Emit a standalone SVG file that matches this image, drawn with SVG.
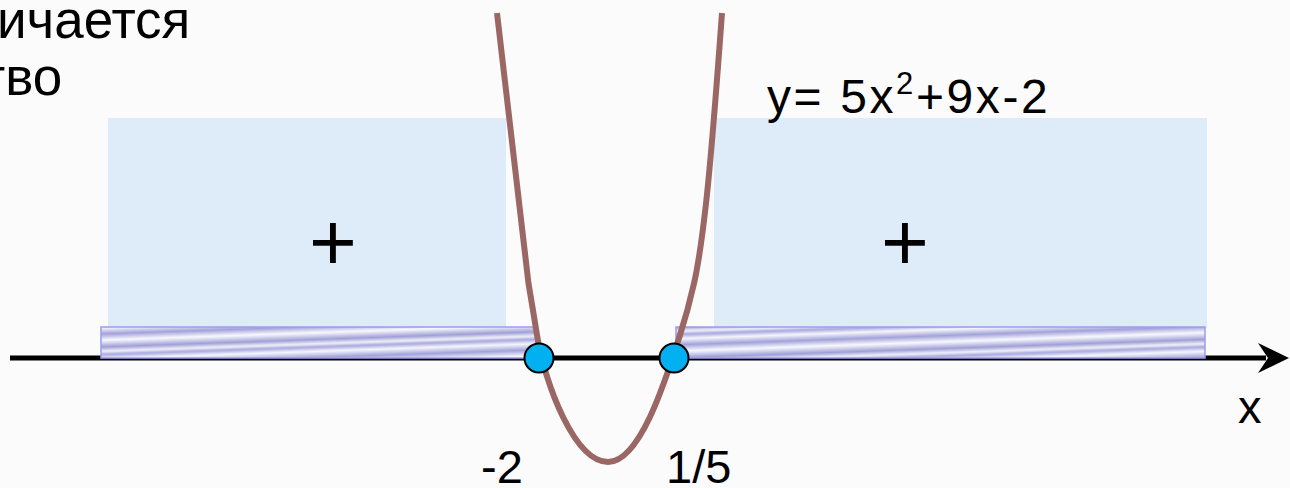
<svg xmlns="http://www.w3.org/2000/svg" width="1290" height="488" viewBox="0 0 1290 488">
  <defs>
    <linearGradient id="rope" x1="0" y1="0" x2="0" y2="31" gradientUnits="userSpaceOnUse">
      <stop offset="0" stop-color="#a6a6de"/>
      <stop offset="0.14" stop-color="#f6f6fd"/>
      <stop offset="0.34" stop-color="#a2a2d9"/>
      <stop offset="0.54" stop-color="#f9f9ff"/>
      <stop offset="0.76" stop-color="#9f9fd6"/>
      <stop offset="0.9" stop-color="#f1f1fa"/>
      <stop offset="1" stop-color="#a8a8dd"/>
    </linearGradient>
    <pattern id="ropePat" x="0" y="327" width="140" height="31" patternUnits="userSpaceOnUse" patternTransform="skewY(-2)">
      <rect x="0" y="0" width="140" height="31" fill="url(#rope)"/>
    </pattern>
  </defs>
  <style>
    .txt { font-family: "Liberation Sans", Arial, sans-serif; fill: #000; }
    .zone { fill: #deecfa; }
    .bar { fill: url(#ropePat); stroke: #9c9cf0; stroke-width: 1.5; }
    .root { fill: #00b0f0; stroke: #000; stroke-width: 2; }
    .curve { fill: none; stroke: #9a6764; stroke-width: 6; stroke-linejoin: round; }
  </style>
  <rect x="0" y="0" width="1290" height="488" fill="#fbfbfb"/>

  <text class="txt" x="-3" y="38" font-size="53">ичается</text>
  <text class="txt" x="-19" y="95" font-size="53">тво</text>

  <g id="zone-left"><rect class="zone" x="108" y="118" width="398" height="210"/></g>
  <g id="zone-right"><rect class="zone" x="714" y="118" width="493" height="210"/></g>

  <g id="connectors">
    <line x1="10" y1="358" x2="1266" y2="358" stroke="#000" stroke-width="5"/>
    <polygon points="1289,358 1258,343 1268,358 1258,373" fill="#000"/>
  </g>

  <g id="bar-left"><rect class="bar" x="101" y="327" width="435" height="31"/></g>
  <g id="bar-right"><rect class="bar" x="676" y="327" width="529" height="31"/></g>

  <g id="parabola">
    <path class="curve" d="M497,13 L528.5,283.5 Q533,310 537,335 C545,385 575,462 608,462 C641,462 667.2,375 680,335 Q688,310 694,283.5 Q700,257 706,203.5 Q712,150 722,13"/>
  </g>

  <g id="root-left"><circle class="root" cx="539" cy="358" r="14.5"/></g>
  <g id="root-right"><circle class="root" cx="674" cy="358" r="14.5"/></g>

  <g id="plus-left"><text class="txt" x="333" y="270" font-size="82" text-anchor="middle">+</text></g>
  <g id="plus-right"><text class="txt" x="905" y="270" font-size="82" text-anchor="middle">+</text></g>

  <g id="equation"><text class="txt" x="767" y="113" font-size="48" letter-spacing="2.6">y= 5x<tspan font-size="31" dy="-19">2</tspan><tspan dy="19">+9x-2</tspan></text></g>

  <g id="label-x"><text class="txt" x="1238" y="423" font-size="47">x</text></g>
  <g id="label-m2"><text class="txt" x="481" y="483" font-size="47">-2</text></g>
  <g id="label-15"><text class="txt" x="666" y="483" font-size="47">1/5</text></g>
</svg>
